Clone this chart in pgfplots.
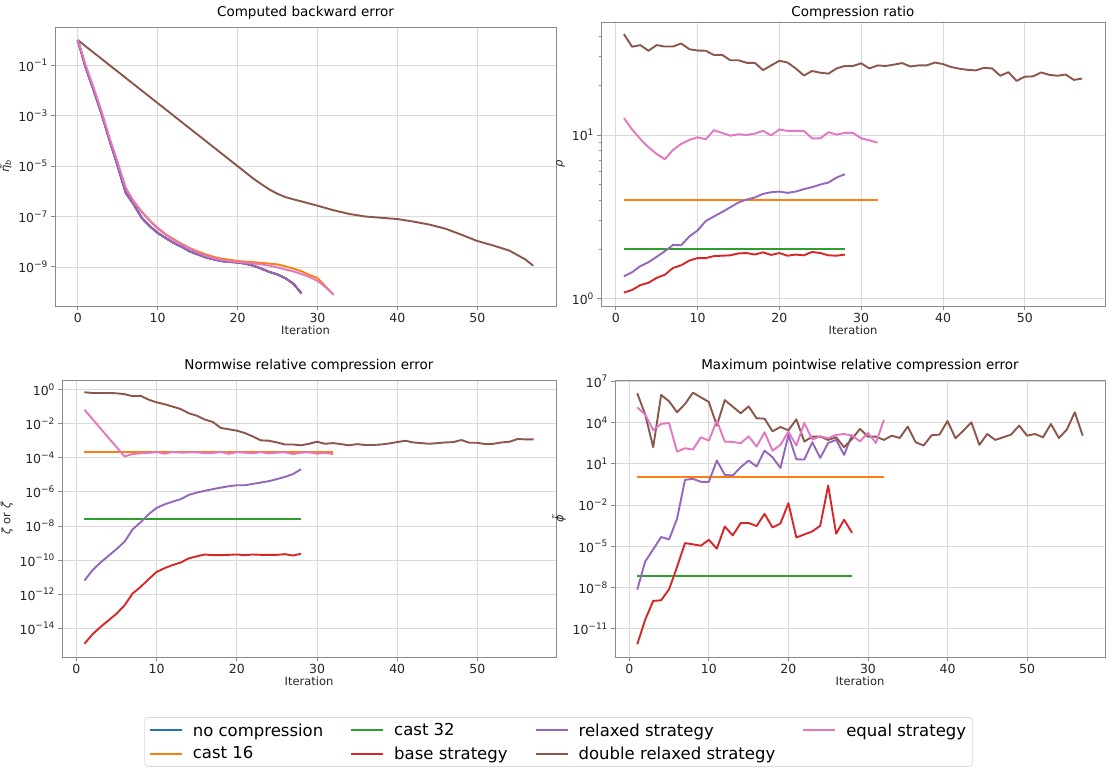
\documentclass[border=0pt]{standalone}
\usepackage{fontspec}
\setmainfont{DejaVu Sans}
\usepackage{pgfplots}
\usepackage{pgfplotstable}
\pgfplotsset{compat=1.18}
\definecolor{mblue}{HTML}{1F77B4}
\definecolor{morange}{HTML}{FF7F0E}
\definecolor{mgreen}{HTML}{2CA02C}
\definecolor{mred}{HTML}{D62728}
\definecolor{mpurple}{HTML}{9467BD}
\definecolor{mbrown}{HTML}{8C564B}
\definecolor{mpink}{HTML}{E377C2}
\definecolor{mframe}{HTML}{8A8A8A}
\definecolor{mgrid}{HTML}{DADADA}

\newcommand{\supx}[1]{\raisebox{0.42em}{\fontsize{9}{10}\selectfont #1}}

\pgfplotstableread{
x y
0 1
1 7.94e-2
2 1e-2
3 1.12e-3
4 1e-4
5 1e-5
6 8.7e-7
7 3.02e-7
8 8.91e-8
9 4.17e-8
10 2.24e-8
11 1.41e-8
12 8.91e-9
13 6.31e-9
14 4.17e-9
15 3.16e-9
16 2.4e-9
17 2.0e-9
18 1.7e-9
19 1.58e-9
20 1.51e-9
21 1.35e-9
22 1.12e-9
23 8.51e-10
24 6.31e-10
25 5.01e-10
26 3.55e-10
27 2.14e-10
28 8.91e-11
}\pOnePurple

\pgfplotsset{
  mpl/.style={
    scale only axis,
    axis line style={draw=mframe, line width=0.9pt},
    tick style={draw=mframe, line width=0.9pt},
    tick align=outside, major tick length=4pt, minor tick length=0pt,
    tick pos=left,
    grid=major, major grid style={draw=mgrid, line width=0.8pt},
    xtick={0,10,20,30,40,50},
    /pgf/number format/assume math mode=true,
    tick label style={font=\fontsize{12.5}{14}\selectfont, text=black!85},
    label style={font=\fontsize{11.5}{13}\selectfont, text=black!85},
    title style={font=\fontsize{13.5}{16}\selectfont, yshift=-2pt},
    xlabel={Iteration},
    xlabel style={yshift=4pt},
    yticklabel={\pgfmathtruncatemacro{\ee}{round(\tick/ln(10))}10\supx{\ifnum\ee<0 −\number-\ee\else\ee\fi}},
    every axis plot/.append style={line width=1.9pt, line join=round, mark=none},
  }
}

\begin{document}
\begin{tikzpicture}
\useasboundingbox (0pt,0pt) rectangle (1106pt,-770pt);

% ---------------- Panel 1 ----------------
\begin{axis}[ymode=log, mpl, at={(55pt,-27pt)}, anchor=north west, width=501pt, height=279pt,
  xmin=-2.85, xmax=59.85, ymin=2.82e-11, ymax=3.31,
  ytick={1e-9,1e-7,1e-5,1e-3,1e-1},
  title={Computed backward error},
  ylabel={{\itshape η̃}\textsubscript{\itshape b}}]
\addplot[mblue] table {\pOnePurple};
\addplot[morange] coordinates {(0,1)(1,8.91e-2)(2,1.12e-2)(3,1.26e-3)(4,1.12e-4)(5,1.12e-5)(6,1.17e-6)(7,3.98e-7)(8,1.58e-7)(9,7.08e-8)(10,3.55e-8)(11,2.0e-8)(12,1.26e-8)(13,8.32e-9)(14,5.62e-9)(15,4.17e-9)(16,3.16e-9)(17,2.51e-9)(18,2.14e-9)(19,1.91e-9)(20,1.74e-9)(21,1.62e-9)(22,1.55e-9)(23,1.45e-9)(24,1.35e-9)(25,1.26e-9)(26,1.05e-9)(27,8.51e-10)(28,6.76e-10)(29,4.79e-10)(30,3.63e-10)(31,1.70e-10)(32,7.94e-11)};
\addplot[mgreen] table {\pOnePurple};
\addplot[mred] table {\pOnePurple};
\addplot[mpurple] table {\pOnePurple};
\addplot[mbrown] coordinates {(0,1)(2,3.16e-1)(4,1e-1)(6,3.16e-2)(8,1e-2)(10,3.16e-3)(12,1e-3)(14,3.16e-4)(16,1e-4)(18,3.16e-5)(20,1e-5)(21,5.62e-6)(22,3.16e-6)(23,1.905e-6)(24,1.175e-6)(25,7.94e-7)(26,5.89e-7)(27,4.79e-7)(28,3.98e-7)(30,2.69e-7)(32,1.78e-7)(34,1.26e-7)(36,1e-7)(38,8.91e-8)(40,7.94e-8)(42,6.31e-8)(44,4.79e-8)(46,3.31e-8)(48,1.905e-8)(50,1.07e-8)(52,7.08e-9)(54,4.47e-9)(56,2.0e-9)(57,1.12e-9)};
\addplot[mpink] coordinates {(0,1)(1,1e-1)(2,1.26e-2)(3,1.41e-3)(4,1.26e-4)(5,1.41e-5)(6,1.41e-6)(7,3.98e-7)(8,1.51e-7)(9,6.76e-8)(10,3.31e-8)(11,1.91e-8)(12,1.17e-8)(13,7.94e-9)(14,5.37e-9)(15,3.8e-9)(16,2.82e-9)(17,2.24e-9)(18,1.91e-9)(19,1.7e-9)(20,1.58e-9)(21,1.48e-9)(22,1.38e-9)(23,1.26e-9)(24,1.12e-9)(25,9.55e-10)(26,7.94e-10)(27,6.61e-10)(28,5.25e-10)(29,3.98e-10)(30,2.82e-10)(31,1.58e-10)(32,7.94e-11)};
\end{axis}

% ---------------- Panel 2 ----------------
\begin{axis}[ymode=log, mpl, at={(601pt,-22pt)}, anchor=north west, width=504pt, height=284pt,
  xmin=-1.8, xmax=59.8, ymin=0.902, ymax=49.0,
  ytick={1,10}, minor ytick={2,3,4,5,6,7,8,9,20,30,40}, minor tick length=2.5pt,
  title={Compression ratio}, title style={yshift=-4.5pt},
  ylabel={\itshape ρ}]
\addplot[morange] coordinates {(1,4)(32,4)};
\addplot[mgreen] coordinates {(1,2)(28,2)};
\addplot[mred] coordinates {(1,1.09)(2,1.13)(3,1.21)(4,1.25)(5,1.34)(6,1.40)(7,1.54)(8,1.60)(9,1.71)(10,1.77)(11,1.77)(12,1.82)(13,1.83)(14,1.84)(15,1.89)(16,1.90)(17,1.86)(18,1.92)(19,1.85)(20,1.90)(21,1.83)(22,1.86)(23,1.84)(24,1.93)(25,1.90)(26,1.84)(27,1.83)(28,1.86)};
\addplot[mpurple] coordinates {(1,1.37)(2,1.45)(3,1.58)(4,1.67)(5,1.80)(6,1.95)(7,2.13)(8,2.12)(9,2.40)(10,2.61)(11,2.98)(12,3.18)(13,3.38)(14,3.62)(15,3.87)(16,4.03)(17,4.15)(18,4.37)(19,4.47)(20,4.51)(21,4.43)(22,4.51)(23,4.67)(24,4.80)(25,4.98)(26,5.12)(27,5.50)(28,5.75)};
\addplot[mbrown] coordinates {(1,41.3)(2,34.6)(3,35.4)(4,32.7)(5,35.4)(6,34.7)(7,34.7)(8,36.2)(9,33.4)(10,32.8)(11,32.7)(12,30.8)(13,30.9)(14,28.6)(15,28.6)(16,27.6)(17,27.6)(18,24.9)(19,26.6)(20,28.4)(21,27.7)(22,25.5)(23,23.1)(24,24.6)(25,24.0)(26,23.7)(27,25.5)(28,26.4)(29,26.4)(30,27.4)(31,25.5)(32,26.6)(33,26.4)(34,26.9)(35,27.5)(36,26.2)(37,26.6)(38,26.6)(39,27.7)(40,27.1)(41,26.0)(42,25.4)(43,25.0)(44,24.8)(45,25.7)(46,25.5)(47,23.0)(48,24.2)(49,21.4)(50,22.7)(51,22.8)(52,24.1)(53,23.3)(54,23.0)(55,23.4)(56,21.7)(57,22.1)};
\addplot[mpink] coordinates {(1,12.7)(2,10.8)(3,9.46)(4,8.42)(5,7.66)(6,7.11)(7,8.1)(8,8.82)(9,9.33)(10,9.68)(11,9.41)(12,10.7)(13,10.3)(14,9.9)(15,10.1)(16,10.0)(17,10.2)(18,10.6)(19,9.95)(20,10.8)(21,10.6)(22,10.6)(23,10.6)(24,9.54)(25,9.54)(26,10.4)(27,10.05)(28,10.3)(29,10.3)(30,9.54)(31,9.27)(32,8.98)};
\end{axis}

% ---------------- Panel 3 ----------------
\begin{axis}[ymode=log, mpl, at={(62pt,-380pt)}, anchor=north west, width=494pt, height=277pt,
  xmin=-1.8, xmax=59.8, ymin=2.09e-16, ymax=3.63,
  ytick={1e-14,1e-12,1e-10,1e-8,1e-6,1e-4,1e-2,1},
  title={Normwise relative compression error},
  ylabel={{\itshape ζ} or {\itshape ζ̃}}]
\addplot[morange] coordinates {(1,2.2e-4)(32,2.2e-4)};
\addplot[mgreen] coordinates {(1,2.7e-8)(28,2.7e-8)};
\addplot[mred] coordinates {(1,1.26e-15)(2,4.47e-15)(3,1.2e-14)(4,2.95e-14)(5,7.24e-14)(6,2.24e-13)(7,1.1e-12)(8,2.69e-12)(9,7.59e-12)(10,2.04e-11)(11,3.39e-11)(12,5.13e-11)(13,7.24e-11)(14,1.26e-10)(15,1.66e-10)(16,2.14e-10)(17,1.95e-10)(18,1.95e-10)(19,2.04e-10)(20,2.14e-10)(21,1.95e-10)(22,2.14e-10)(23,2.04e-10)(24,2.04e-10)(25,2.04e-10)(26,2.24e-10)(27,1.86e-10)(28,2.34e-10)};
\addplot[mpurple] coordinates {(1,6.31e-12)(2,2.57e-11)(3,7.24e-11)(4,1.78e-10)(5,4.47e-10)(6,1.2e-9)(7,6.31e-9)(8,1.66e-8)(9,4.9e-8)(10,1.15e-7)(11,1.86e-7)(12,2.69e-7)(13,3.72e-7)(14,6.61e-7)(15,9.12e-7)(16,1.15e-6)(17,1.45e-6)(18,1.78e-6)(19,2.14e-6)(20,2.45e-6)(21,2.45e-6)(22,2.95e-6)(23,3.55e-6)(24,4.27e-6)(25,5.62e-6)(26,7.59e-6)(27,1.1e-5)(28,2.14e-5)};
\addplot[mbrown] coordinates {(1,6.92e-1)(2,6.31e-1)(3,6.31e-1)(4,6.31e-1)(5,6.03e-1)(6,5.37e-1)(7,4.07e-1)(8,4.27e-1)(9,2.57e-1)(10,1.78e-1)(11,1.38e-1)(12,1e-1)(13,7.24e-2)(14,4.07e-2)(15,2.95e-2)(16,1.74e-2)(17,1.26e-2)(18,5.62e-3)(19,4.68e-3)(20,3.89e-3)(21,2.82e-3)(22,1.78e-3)(23,1.05e-3)(24,1e-3)(25,7.94e-4)(26,6.03e-4)(27,6.03e-4)(28,5.37e-4)(29,6.61e-4)(30,8.71e-4)(31,6.61e-4)(32,7.24e-4)(33,6.31e-4)(34,5.37e-4)(35,6.31e-4)(36,5.62e-4)(37,5.62e-4)(38,6.03e-4)(39,6.92e-4)(40,8.32e-4)(41,1e-3)(42,7.94e-4)(43,7.24e-4)(44,6.61e-4)(45,7.24e-4)(46,7.94e-4)(47,8.32e-4)(48,1.1e-3)(49,7.59e-4)(50,7.59e-4)(51,6.31e-4)(52,6.61e-4)(53,7.94e-4)(54,8.71e-4)(55,1.26e-3)(56,1.2e-3)(57,1.2e-3)};
\addplot[mpink] coordinates {(1,6.61e-2)(2,1.86e-2)(3,5.25e-3)(4,1.48e-3)(5,4.27e-4)(6,1.2e-4)(7,1.66e-4)(8,1.82e-4)(9,1.95e-4)(10,2.14e-4)(11,1.74e-4)(12,2.19e-4)(13,2.0e-4)(14,2.04e-4)(15,2.09e-4)(16,1.86e-4)(17,1.91e-4)(18,2.19e-4)(19,1.7e-4)(20,2.14e-4)(21,2.0e-4)(22,1.82e-4)(23,2.14e-4)(24,1.78e-4)(25,2.0e-4)(26,2.09e-4)(27,1.66e-4)(28,2.0e-4)(29,2.09e-4)(30,1.74e-4)(31,1.91e-4)(32,1.66e-4)};
\end{axis}

% ---------------- Panel 4 ----------------
\begin{axis}[ymode=log, mpl, at={(615pt,-380pt)}, anchor=north west, width=490pt, height=277pt,
  xmin=-1.8, xmax=59.8, ymin=8.71e-14, ymax=1.26e7,
  ytick={1e-11,1e-8,1e-5,1e-2,10,1e4,1e7},
  title={Maximum pointwise relative compression error},
  ylabel={\itshape ϕ̃}]
\addplot[morange] coordinates {(1,1.1)(32,1.1)};
\addplot[mgreen] coordinates {(1,6.5e-8)(28,6.5e-8)};
\addplot[mred] coordinates {(1,7.41e-13)(2,4.57e-11)(3,1.05e-9)(4,1.17e-9)(5,7.41e-9)(6,3.09e-7)(7,1.7e-5)(8,1.38e-5)(9,1.1e-5)(10,2.95e-5)(11,6.61e-6)(12,2.75e-4)(13,6.17e-5)(14,4.9e-4)(15,4.9e-4)(16,2.95e-4)(17,2.29e-3)(18,2.34e-4)(19,4.57e-4)(20,1.38e-2)(21,4.37e-5)(22,7.24e-5)(23,1.2e-4)(24,3.09e-4)(25,2.63e-1)(26,8.13e-5)(27,8.51e-4)(28,9.55e-5)};
\addplot[mpurple] coordinates {(1,6.92e-9)(2,7.94e-7)(3,5.89e-6)(4,4.68e-5)(5,3.16e-5)(6,1e-3)(7,6.76e-1)(8,8.13e-1)(9,4.9e-1)(10,4.9e-1)(11,17.4)(12,1.58)(13,1.41)(14,5.62)(15,17.4)(16,6.31)(17,91.2)(18,30.2)(19,5.01)(20,1.26e3)(21,21.4)(22,20.4)(23,372)(24,26.9)(25,331)(26,550)(27,44.7)(28,1.35e3)};
\addplot[mbrown] coordinates {(1,1.35e6)(2,3.8e4)(3,162)(4,1.02e6)(5,3.55e5)(6,5.62e4)(7,2.24e5)(8,1.51e6)(9,6.92e5)(10,3.16e5)(11,6.03e3)(12,4.37e5)(13,1.45e5)(14,4.79e4)(15,1.51e5)(16,2.04e4)(17,1.95e4)(18,2.34e3)(19,4.79e3)(20,2.75e3)(21,1.74e4)(22,417)(23,955)(24,955)(25,550)(26,851)(27,162)(28,646)(29,3.47e3)(30,955)(31,955)(32,550)(33,1.12e3)(34,759)(35,5.13e3)(36,372)(37,214)(38,1.2e3)(39,1.35e3)(40,1.32e4)(41,724)(42,2.63e3)(43,1.05e4)(44,240)(45,1.48e3)(46,550)(47,851)(48,1.35e3)(49,6.03e3)(50,1.12e3)(51,1.48e3)(52,851)(53,7.94e3)(54,759)(55,3.09e3)(56,5.62e4)(57,1.12e3)};
\addplot[mpink] coordinates {(1,1.29e5)(2,3.8e4)(3,2.88e3)(4,7.94e3)(5,9.33e3)(6,77.6)(7,135)(8,110)(9,851)(10,490)(11,1.38e4)(12,417)(13,389)(14,316)(15,1e3)(16,178)(17,2.0e3)(18,91.2)(19,240)(20,2.19e3)(21,214)(22,9.33e3)(23,575)(24,1e3)(25,724)(26,1.26e3)(27,1.48e3)(28,1.12e3)(29,437)(30,1.78e3)(31,331)(32,1.55e4)};
\end{axis}

% ---------------- Legend ----------------
\begin{axis}[hide axis, scale only axis, at={(142pt,-716pt)}, anchor=north west,
  width=833pt, height=52pt, xmin=0, xmax=1, ymin=0, ymax=1,
  legend columns=4,
  legend cell align=left,
  legend image code/.code={\draw[#1, line width=2pt] (0pt,0pt) -- (32pt,0pt);},
  legend style={at={(0.5,0.5)}, anchor=center, draw=mgrid, line width=0.8pt,
    rounded corners=3pt, fill=white,
    font=\fontsize{16.5}{19}\selectfont,
    inner xsep=4pt, inner ysep=4pt,
    row sep=5pt,
    /tikz/every even column/.append style={column sep=25pt},
    /tikz/every odd column/.append style={column sep=8pt}}]
\addlegendimage{mblue}\addlegendentry{no compression}
\addlegendimage{mgreen}\addlegendentry{cast 32}
\addlegendimage{mpurple}\addlegendentry{relaxed strategy}
\addlegendimage{mpink}\addlegendentry{equal strategy}
\addlegendimage{morange}\addlegendentry{cast 16}
\addlegendimage{mred}\addlegendentry{base strategy}
\addlegendimage{mbrown}\addlegendentry{double relaxed strategy}
\end{axis}
\end{tikzpicture}
\end{document}
